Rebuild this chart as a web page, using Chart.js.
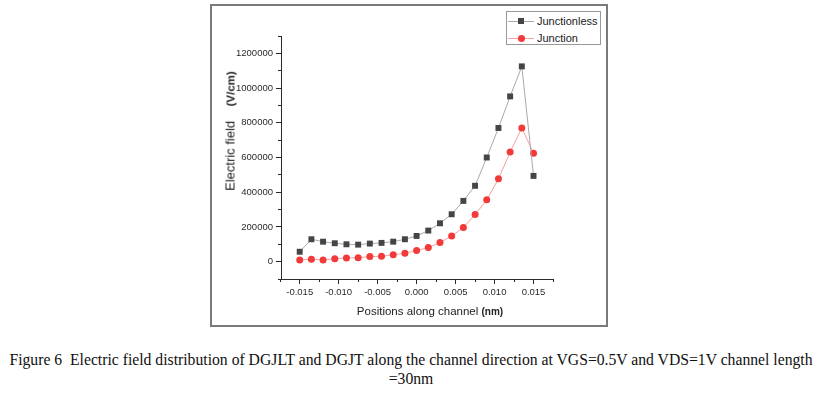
<!DOCTYPE html>
<html>
<head>
<meta charset="utf-8">
<script src="https://cdn.jsdelivr.net/npm/chart.js@4.4.1/dist/chart.umd.min.js"></script>
<style>
  body { margin: 0; width: 822px; height: 395px; background: #fff; position: relative; overflow: hidden;
         font-family: "Liberation Sans", Arial, sans-serif; color: #222; }
  #frame { position: absolute; left: 210px; top: 4px; width: 394px; height: 319px; border: 2px solid #7a7a7a; }
  #chart { position: absolute; left: 0; top: 0; }
  .ytitle { position: absolute; left: 230px; top: 131px; transform: translate(-50%, -50%) rotate(-90deg);
            white-space: nowrap; font-size: 13px; }
  .ytitle b { font-size: 11.5px; }
  .xtitle { position: absolute; left: 430px; top: 311px; transform: translate(-50%, -50%);
            white-space: nowrap; font-size: 11.5px; }
  .xtitle b { font-size: 10px; }
  #legend { position: absolute; left: 506px; top: 11px; width: 93px; height: 32px; border: 1px solid #999; background: #fff; }
  .item { position: absolute; left: 0; height: 14px; width: 93px; }
  .item .ln { position: absolute; left: 1px; top: 7px; width: 26px; height: 1px; }
  .item .mk { position: absolute; }
  .item span { position: absolute; left: 30px; top: 0; font-size: 11px; line-height: 14px; white-space: nowrap; }
  #caption { position: absolute; left: 0; top: 350px; width: 822px; text-align: center;
             font-family: "Liberation Serif", "Times New Roman", serif; font-size: 15.7px; line-height: 19px; color: #111; }
</style>
</head>
<body>
<div id="frame"></div>
<canvas id="chart" width="822" height="335"></canvas>
<div class="ytitle">Electric field &nbsp;&nbsp;&nbsp;<b>(V/cm)</b></div>
<div class="xtitle">Positions along channel <b>(nm)</b></div>
<div id="legend"></div>
<div id="caption">Figure 6&nbsp; Electric field distribution of DGJLT and DGJT along the channel direction at VGS=0.5V and VDS=1V channel length<br>=30nm</div>
<script>
const positions = [-0.015, -0.0135, -0.012, -0.0105, -0.009, -0.0075, -0.006, -0.0045, -0.003, -0.0015,
    0, 0.0015, 0.003, 0.0045, 0.006, 0.0075, 0.009, 0.0105, 0.012, 0.0135, 0.015];
const junctionless = [57000, 129000, 115000, 106000, 100000, 98000, 104000, 108000, 115000, 129000,
    148000, 179000, 221000, 273000, 350000, 437000, 600000, 770000, 952000, 1125000, 494000];
const junction = [10000, 14000, 10000, 17000, 21000, 23000, 29000, 31000, 39000, 49000,
    64000, 81000, 110000, 148000, 196000, 271000, 356000, 477000, 631000, 770000, 625000];

const xTicks = [-0.015, -0.01, -0.005, 0, 0.005, 0.01, 0.015];
const xMinorTicks = [-0.0175, -0.015, -0.0125, -0.01, -0.0075, -0.005, -0.0025, 0,
    0.0025, 0.005, 0.0075, 0.01, 0.0125, 0.015, 0.0175];
const yTicks = [0, 200000, 400000, 600000, 800000, 1000000, 1200000];
const yMinorTicks = [-100000, 0, 100000, 200000, 300000, 400000, 500000, 600000, 700000,
    800000, 900000, 1000000, 1100000, 1200000, 1300000];

const axisColor = '#2a2a2a';

function toPoints(values) {
    return positions.map((x, i) => ({ x, y: values[i] }));
}

function fixedTicks(list) {
    return axis => { axis.ticks = list.map(value => ({ value })); };
}

const ctx = document.getElementById('chart').getContext('2d');
const chart = new Chart(ctx, {
    type: 'line',
    data: {
        datasets: [
            {
                label: 'Junctionless',
                data: toPoints(junctionless),
                borderColor: '#a9a9a9',
                borderWidth: 1,
                backgroundColor: '#454545',
                pointBackgroundColor: '#454545',
                pointBorderColor: '#454545',
                pointBorderWidth: 0,
                pointStyle: 'rect',
                pointRadius: 4.2,
                tension: 0,
            },
            {
                label: 'Junction',
                data: toPoints(junction),
                borderColor: '#f7a0a0',
                borderWidth: 1,
                backgroundColor: '#f23a3a',
                pointBackgroundColor: '#f23a3a',
                pointBorderColor: '#f23a3a',
                pointBorderWidth: 0,
                pointStyle: 'circle',
                pointRadius: 3.5,
                tension: 0,
            },
        ],
    },
    options: {
        responsive: false,
        animation: false,
        events: [],
        layout: { padding: { left: 231, right: 269, top: 36, bottom: 36 } },
        scales: {
            x: {
                type: 'linear',
                position: 'bottom',
                weight: 1,
                min: -0.0174,
                max: 0.0175,
                afterBuildTicks: fixedTicks(xTicks),
                afterFit: s => { s.height = 20; },
                ticks: {
                    color: axisColor,
                    padding: 3,
                    maxRotation: 0,
                    autoSkip: false,
                    font: { family: 'Liberation Sans', size: 9.5 },
                    callback: v => (Math.abs(v) < 1e-9 ? '0.000' : v.toFixed(3)),
                },
                grid: { drawOnChartArea: false, tickLength: 5, tickColor: axisColor },
                border: { color: axisColor, width: 1 },
            },
            xMinor: {
                type: 'linear',
                position: 'bottom',
                weight: 0,
                min: -0.0174,
                max: 0.0175,
                afterBuildTicks: fixedTicks(xMinorTicks),
                afterFit: s => { s.height = 0; },
                ticks: { display: false },
                grid: { drawOnChartArea: false, tickLength: 3, tickColor: axisColor },
                border: { display: false },
            },
            y: {
                type: 'linear',
                position: 'left',
                weight: 1,
                min: -100000,
                max: 1300000,
                afterBuildTicks: fixedTicks(yTicks),
                afterFit: s => { s.width = 50; },
                ticks: {
                    color: axisColor,
                    padding: 3,
                    autoSkip: false,
                    font: { family: 'Liberation Sans', size: 9.5 },
                    callback: v => String(v),
                },
                grid: { drawOnChartArea: false, tickLength: 5, tickColor: axisColor },
                border: { color: axisColor, width: 1 },
            },
            yMinor: {
                type: 'linear',
                position: 'left',
                weight: 0,
                min: -100000,
                max: 1300000,
                afterBuildTicks: fixedTicks(yMinorTicks),
                afterFit: s => { s.width = 0; },
                ticks: { display: false },
                grid: { drawOnChartArea: false, tickLength: 3, tickColor: axisColor },
                border: { display: false },
            },
        },
        plugins: {
            legend: { display: false },
            tooltip: { enabled: false },
        },
    },
});

// legend inside the plot, built from the datasets
const legendEl = document.getElementById('legend');
chart.data.datasets.forEach((ds, i) => {
    const item = document.createElement('div');
    item.className = 'item';
    item.style.top = (2 + i * 17) + 'px';
    const ln = document.createElement('div');
    ln.className = 'ln';
    ln.style.background = ds.borderColor;
    const mk = document.createElement('div');
    mk.className = 'mk';
    mk.style.background = ds.pointBackgroundColor;
    if (ds.pointStyle === 'rect') {
        Object.assign(mk.style, { left: '11px', top: '4px', width: '6px', height: '6px' });
    } else {
        Object.assign(mk.style, { left: '10.5px', top: '3.5px', width: '7px', height: '7px', borderRadius: '50%' });
    }
    const label = document.createElement('span');
    label.textContent = ds.label;
    item.append(ln, mk, label);
    legendEl.appendChild(item);
});
</script>
</body>
</html>
